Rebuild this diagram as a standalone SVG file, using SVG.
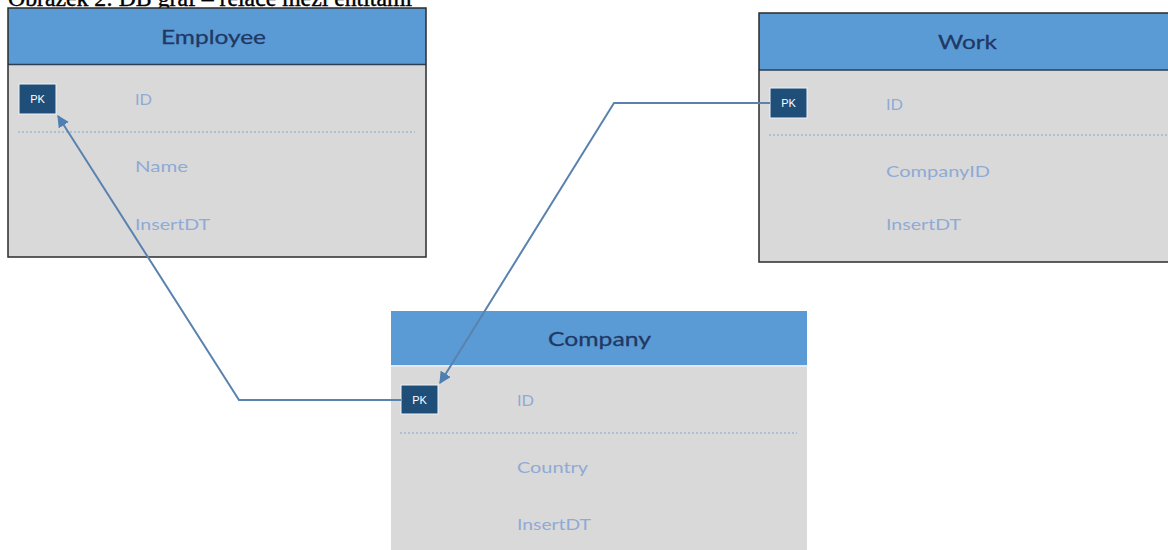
<svg xmlns="http://www.w3.org/2000/svg" width="1168" height="550" viewBox="0 0 1168 550">
<style>
.title{font-family:"Liberation Serif",serif;font-size:23px;fill:#000;stroke:#000;stroke-width:0.4}
.hdr{fill:#5b9bd5}
.body{fill:#d9d9d9}
.frame{fill:none;stroke:#2b2b2b;stroke-width:1.5}
.htext{font-family:Lato,"Open Sans",sans-serif;font-size:20px;fill:#1f3864;stroke:#1f3864;stroke-width:0.3}
.pk{fill:#1f4e79;stroke:#eef3f8;stroke-width:1}
.pktext{font-family:"Liberation Sans",sans-serif;font-size:11px;fill:#fff;text-anchor:middle}
.field{font-family:Lato,"Open Sans",sans-serif;font-size:16px;fill:#8eaad6}
.dots{stroke:#9fb6cf;stroke-width:1.5;stroke-dasharray:2 2}
.conn{fill:none;stroke:#5a82ae;stroke-width:2}
</style>
<defs>
<marker id="arr" viewBox="0 0 10 10" refX="9" refY="5" markerWidth="6" markerHeight="6" orient="auto" markerUnits="strokeWidth">
<path d="M0,0 L10,5 L0,10 z" fill="#4f7fb2"/>
</marker>
</defs>
<rect width="1168" height="550" fill="#fff"/>
<text class="title" x="8" y="6" textLength="404" lengthAdjust="spacingAndGlyphs">Obrázek 2: DB graf – relace mezi entitami</text>

<g id="employee">
<rect class="body" x="8" y="8" width="418" height="249"/>
<rect class="hdr" x="8" y="8" width="418" height="56"/>
<line x1="8" y1="64.5" x2="426" y2="64.5" stroke="#2b3f55" stroke-width="1.5"/>
<rect class="frame" x="8" y="8" width="418" height="249"/>
<text class="htext" x="161" y="44" textLength="105" lengthAdjust="spacingAndGlyphs">Employee</text>
<rect class="pk" x="19" y="84" width="37" height="30"/>
<text class="pktext" x="37.5" y="103">PK</text>
<text class="field" x="135" y="105" textLength="17" lengthAdjust="spacingAndGlyphs">ID</text>
<line class="dots" x1="18" y1="132" x2="415" y2="132"/>
<text class="field" x="135" y="172" textLength="53" lengthAdjust="spacingAndGlyphs">Name</text>
<text class="field" x="135" y="230" textLength="75" lengthAdjust="spacingAndGlyphs">InsertDT</text>
</g>

<g id="work">
<rect class="body" x="759" y="13" width="420" height="249"/>
<rect class="hdr" x="759" y="13" width="420" height="57"/>
<line x1="759" y1="70" x2="1170" y2="70" stroke="#2b3f55" stroke-width="1.5"/>
<rect class="frame" x="759" y="13" width="420" height="249"/>
<text class="htext" x="938" y="49" textLength="59" lengthAdjust="spacingAndGlyphs">Work</text>
<rect class="pk" x="770" y="88" width="37" height="30"/>
<text class="pktext" x="788.5" y="107">PK</text>
<text class="field" x="886" y="110" textLength="17" lengthAdjust="spacingAndGlyphs">ID</text>
<line class="dots" x1="769" y1="135" x2="1168" y2="135"/>
<text class="field" x="886" y="177" textLength="104" lengthAdjust="spacingAndGlyphs">CompanyID</text>
<text class="field" x="886" y="230" textLength="75" lengthAdjust="spacingAndGlyphs">InsertDT</text>
</g>

<g id="company">
<rect class="body" x="391" y="311" width="416" height="245"/>
<rect class="hdr" x="391" y="311" width="416" height="54"/>
<line x1="391" y1="366" x2="807" y2="366" stroke="#e8eef5" stroke-width="1.5"/>
<text class="htext" x="548" y="346" textLength="103" lengthAdjust="spacingAndGlyphs">Company</text>
<rect class="pk" x="401" y="385" width="37" height="29"/>
<text class="pktext" x="419.5" y="403.5">PK</text>
<text class="field" x="517" y="406" textLength="17" lengthAdjust="spacingAndGlyphs">ID</text>
<line class="dots" x1="400" y1="433" x2="797" y2="433"/>
<text class="field" x="517" y="473" textLength="71" lengthAdjust="spacingAndGlyphs">Country</text>
<text class="field" x="517" y="530" textLength="74" lengthAdjust="spacingAndGlyphs">InsertDT</text>
</g>

<g id="connectors">
<path class="conn" d="M401,400 L239,400 L58,116" marker-end="url(#arr)"/>
<path class="conn" d="M770,103 L614,103 L440,383" marker-end="url(#arr)"/>
</g>
</svg>
